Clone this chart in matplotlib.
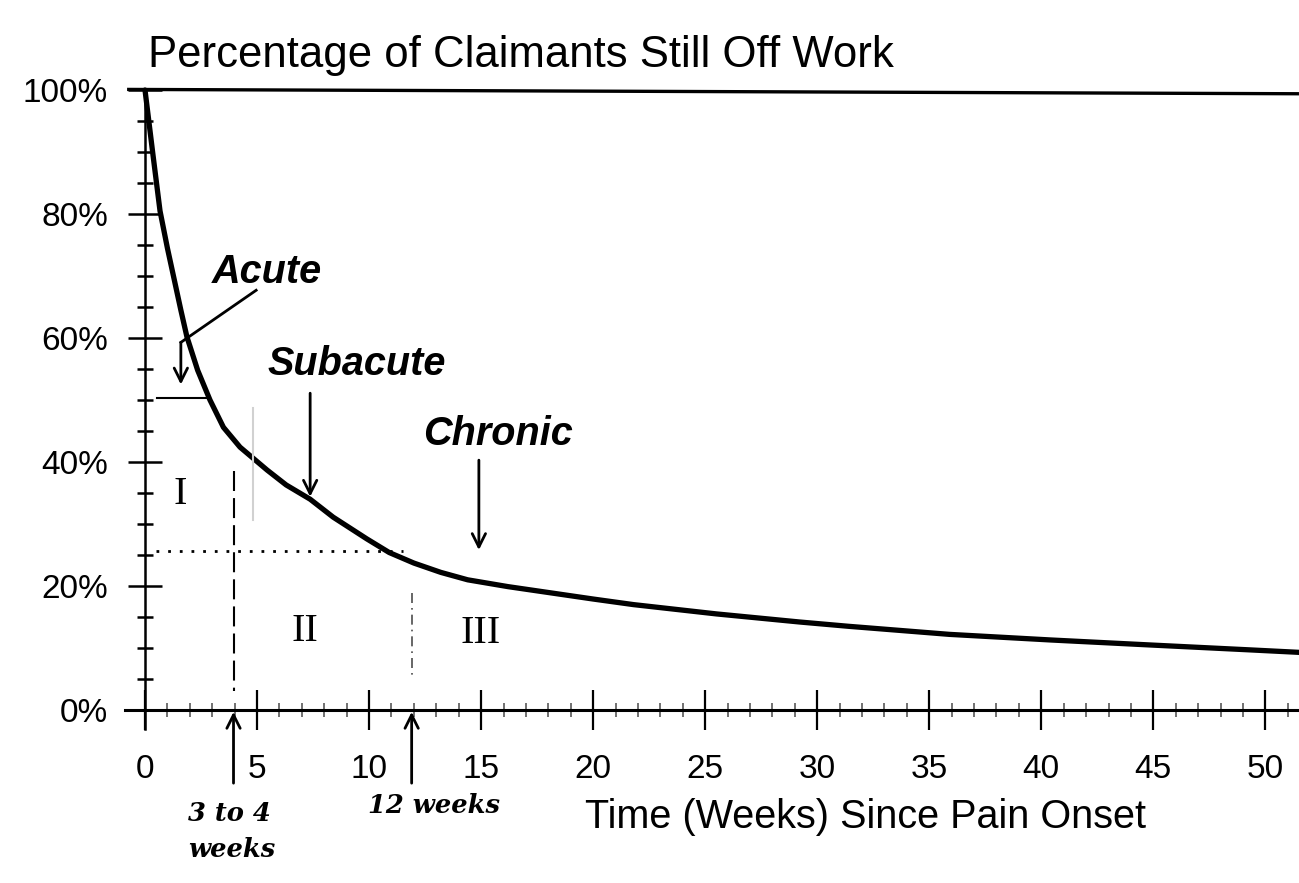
import matplotlib
matplotlib.use("Agg")
import matplotlib.pyplot as plt

plt.rcParams['font.family'] = ['Liberation Sans', 'DejaVu Sans']

# curve (weeks, % still off work)
weeks = [0, 0.34, 0.67, 1.0, 1.3, 1.6, 1.87, 2.35, 2.9, 3.5, 4.24, 5.45,
         6.3, 7.37, 8.4, 9.9, 10.9, 12.0, 13.2, 14.4, 16.2, 18.1, 20.0,
         21.8, 25.5, 29.2, 31.4, 35.9, 40.4, 44.8, 49.3, 51.5]
pct_off = [100, 90, 80.5, 74.5, 69.5, 64.5, 60.2, 54.8, 50, 45.6, 42.4,
           38.7, 36.3, 34.0, 31.1, 27.6, 25.4, 23.7, 22.2, 21.0, 19.9, 18.9,
           17.9, 17.0, 15.5, 14.2, 13.5, 12.2, 11.3, 10.5, 9.7, 9.3]

x_major = [0, 5, 10, 15, 20, 25, 30, 35, 40, 45, 50]
x_minor = list(range(0, 52))
y_major = [0, 20, 40, 60, 80, 100]
y_labels = ['0%', '20%', '40%', '60%', '80%', '100%']
y_minor = list(range(0, 101, 5))

# top border line (slightly tilted in the scan)
top_x = [-0.8, 51.5]
top_y = [100.1, 99.4]

# helper lines
acute_x, acute_y = 3.95, 25.6     # end of acute phase
chronic_x = 11.9                  # 12 weeks
half_x = [0.54, 2.8]
half_y = [50.3, 50.3]

fig = plt.figure(figsize=(12.99, 8.83), dpi=100)
ax = fig.add_axes([0.09438, 0.09762, 0.9056, 0.8285])
ax.set_xlim(-1, 51.5)
ax.set_ylim(-14, 104)

for s in ['top', 'right']:
    ax.spines[s].set_visible(False)
ax.spines['left'].set_position(('data', 0))
ax.spines['bottom'].set_position(('data', 0))
ax.spines['left'].set_bounds(-3, 100)
ax.spines['bottom'].set_bounds(-0.9, 51.5)
ax.spines['left'].set_linewidth(1.8)
ax.spines['bottom'].set_linewidth(2.2)

ax.set_xticks(x_major)
ax.set_xticks(x_minor, minor=True)
ax.set_yticks(y_major)
ax.set_yticklabels(y_labels)
ax.set_yticks(y_minor, minor=True)
ax.tick_params(axis='x', which='major', direction='inout', length=29,
               width=1.6, labelsize=24, pad=17)
ax.tick_params(axis='x', which='minor', direction='inout', length=10,
               width=1.2, color='0.35')
ax.tick_params(axis='y', which='major', direction='inout', length=25,
               width=1.8, labelsize=24, pad=14)
ax.tick_params(axis='y', which='minor', direction='inout', length=12,
               width=1.8)

ax.plot(top_x, top_y, color='black', lw=2.4, solid_capstyle='butt')
ax.plot(weeks, pct_off, color='black', lw=3.8, solid_capstyle='round',
        solid_joinstyle='round')

# region markers
ax.plot([acute_x, acute_x], [38.5, 3], color='black', lw=1.5,
        ls=(0, (9.6, 3.4)))
ax.plot([0.5, 11.5], [acute_y, acute_y], color='black', lw=2,
        ls=(0, (1, 3.2)))
ax.plot([chronic_x, chronic_x], [18.9, 5.2], color='0.3', lw=1.2,
        ls=(0, (6, 3, 1, 3)))
ax.plot([4.8, 4.8], [48.7, 30.6], color='0.82', lw=1.5)
ax.plot(half_x, half_y, color='black', lw=1.5)

# phase labels
lab = dict(fontsize=28.5, fontweight='bold', fontstyle='italic')
ax.text(2.99, 68.9, 'Acute', ha='left', va='baseline', **lab)
ax.text(5.45, 54.0, 'Subacute', ha='left', va='baseline', **lab)
ax.text(12.4, 42.7, 'Chronic', ha='left', va='baseline', **lab)

arr = dict(arrowstyle='->', lw=2, color='black', mutation_scale=24,
           shrinkA=0, shrinkB=0)
ax.plot([4.96, 1.6], [67.7, 59.3], color='black', lw=2)
ax.annotate('', xy=(1.6, 52.5), xytext=(1.6, 59.3), arrowprops=arr)
ax.annotate('', xy=(7.37, 34.4), xytext=(7.37, 51.1), arrowprops=arr)
ax.annotate('', xy=(14.9, 25.8), xytext=(14.9, 40.3), arrowprops=arr)

# roman numerals
rom = dict(fontsize=29, family='Liberation Serif', ha='center', va='center')
ax.text(1.56, 34.7, 'I', **rom)
ax.text(7.14, 12.6, 'II', **rom)
ax.text(14.96, 12.3, 'III', **rom)

# arrows under the axis
ax.annotate('', xy=(acute_x, -0.3), xytext=(acute_x, -11.8), arrowprops=arr,
            annotation_clip=False)
ax.annotate('', xy=(chronic_x, -0.3), xytext=(chronic_x, -11.8),
            arrowprops=arr, annotation_clip=False)

ser = dict(fontsize=18.5, family='DejaVu Serif', fontweight='bold',
           fontstyle='italic', ha='left', va='top')
ax.text(1.92, -14.6, '3 to 4\nweeks', linespacing=1.55, **ser)
ax.text(9.96, -13.4, '12 weeks', **ser)

fig.text(148 / 1299, 1 - 67 / 883, 'Percentage of Claimants Still Off Work',
         fontsize=31.5, ha='left', va='baseline')
fig.text(585 / 1299, 1 - 817 / 883, 'Time (Weeks) Since Pain Onset',
         fontsize=28.5, ha='left', va='center')

fig.savefig('out.png', dpi=100, facecolor='white')
